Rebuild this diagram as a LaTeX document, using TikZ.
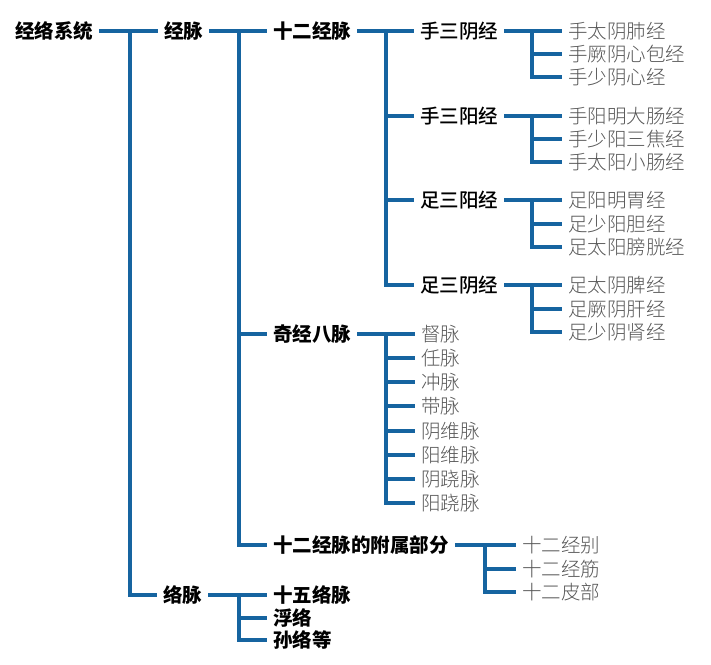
\documentclass[tikz,border=0pt]{standalone}
\usepackage{fontspec}
\setmainfont{Noto Sans CJK SC}
\newfontfamily\leaffont{Noto Sans CJK SC}[UprightFont=* Light]
\newfontfamily\medfont{Noto Sans CJK SC}[UprightFont=* Medium]
\definecolor{lineblue}{RGB}{22,100,160}
\definecolor{leafgray}{RGB}{85,85,85}
\begin{document}
\begin{tikzpicture}[x=1pt,y=-1pt,
  base/.style={anchor=west, inner xsep=6pt, inner ysep=2pt, font=\fontsize{19.5}{21}\selectfont},
  lvA/.style={base, font=\fontsize{19.5}{21}\selectfont\bfseries, text=black},
  lvB/.style={base, font=\fontsize{19.5}{21}\selectfont\medfont, text=black},
  leaf/.style={base, font=\fontsize{19.5}{21}\selectfont\leaffont, text=leafgray},
  conn/.style={draw=lineblue, line width=4pt, line join=miter}]
\useasboundingbox (0,0) rectangle (711,664);
% nodes
\node[lvA] (root) at (9,31) {经络系统};
\node[lvA] (jm) at (158,31) {经脉};
\node[lvA] (lm) at (157,595) {络脉};
\node[lvA] (sej) at (267,31) {十二经脉};
\node[lvA] (qj) at (267,334) {奇经八脉};
\node[lvA] (fs) at (267,545) {十二经脉的附属部分};
\node[lvA] (l1) at (267,595) {十五络脉};
\node[lvA] (l2) at (267,618) {浮络};
\node[lvA] (l3) at (267,640) {孙络等};
% level 3
\node[lvB] (a) at (414,31) {手三阴经};
\node[lvB] (b) at (414,116) {手三阳经};
\node[lvB] (c) at (414,200) {足三阳经};
\node[lvB] (d) at (414,285) {足三阴经};
% leaves
\node[leaf] (a1) at (562,31) {手太阴肺经};
\node[leaf] (a2) at (562,54) {手厥阴心包经};
\node[leaf] (a3) at (562,77) {手少阴心经};
\node[leaf] (b1) at (562,116) {手阳明大肠经};
\node[leaf] (b2) at (562,139) {手少阳三焦经};
\node[leaf] (b3) at (562,162) {手太阳小肠经};
\node[leaf] (c1) at (562,200) {足阳明胃经};
\node[leaf] (c2) at (562,224) {足少阳胆经};
\node[leaf] (c3) at (562,247) {足太阳膀胱经};
\node[leaf] (d1) at (562,285) {足太阴脾经};
\node[leaf] (d2) at (562,309) {足厥阴肝经};
\node[leaf] (d3) at (562,332) {足少阴肾经};
\node[leaf] (q1) at (415,334) {督脉};
\node[leaf] (q2) at (415,358) {任脉};
\node[leaf] (q3) at (415,382) {冲脉};
\node[leaf] (q4) at (415,406) {带脉};
\node[leaf] (q5) at (415,431) {阴维脉};
\node[leaf] (q6) at (415,455) {阳维脉};
\node[leaf] (q7) at (415,479) {阴跷脉};
\node[leaf] (q8) at (415,503) {阳跷脉};
\node[leaf] (f1) at (516,545) {十二经别};
\node[leaf] (f2) at (516,569) {十二经筋};
\node[leaf] (f3) at (516,592) {十二皮部};
% vertical x positions
\coordinate (v0) at (130,0);
\coordinate (v1) at (239,0);
\coordinate (v2) at (386,0);
\coordinate (v3) at (532,0);
\coordinate (v4) at (485,0);
% root
\draw[conn] (root.east) -- (jm.west);
\draw[conn] (v0 |- jm.west) -- (v0 |- lm.west) -- (lm.west);
% jingmai
\draw[conn] (jm.east) -- (sej.west);
\draw[conn] (v1 |- sej.west) -- (v1 |- fs.west) -- (fs.west);
\draw[conn] (v1 |- qj.west) -- (qj.west);
% luomai
\draw[conn] (lm.east) -- (l1.west);
\draw[conn] (v1 |- l1.west) -- (v1 |- l3.west) -- (l3.west);
\draw[conn] (v1 |- l2.west) -- (l2.west);
% twelve
\draw[conn] (sej.east) -- (a.west);
\draw[conn] (v2 |- a.west) -- (v2 |- d.west) -- (d.west);
\draw[conn] (v2 |- b.west) -- (b.west);
\draw[conn] (v2 |- c.west) -- (c.west);
% groups
\foreach \p in {a,b,c,d}{
  \draw[conn] (\p.east) -- (\p1.west);
  \draw[conn] (v3 |- \p1.west) -- (v3 |- \p3.west) -- (\p3.west);
  \draw[conn] (v3 |- \p2.west) -- (\p2.west);
}
% qijing
\draw[conn] (qj.east) -- (q1.west);
\draw[conn] (v2 |- q1.west) -- (v2 |- q8.west) -- (q8.west);
\foreach \i in {2,...,7}{\draw[conn] (v2 |- q\i.west) -- (q\i.west);}
% fushu
\draw[conn] (fs.east) -- (f1.west);
\draw[conn] (v4 |- f1.west) -- (v4 |- f3.west) -- (f3.west);
\draw[conn] (v4 |- f2.west) -- (f2.west);
\end{tikzpicture}
\end{document}
